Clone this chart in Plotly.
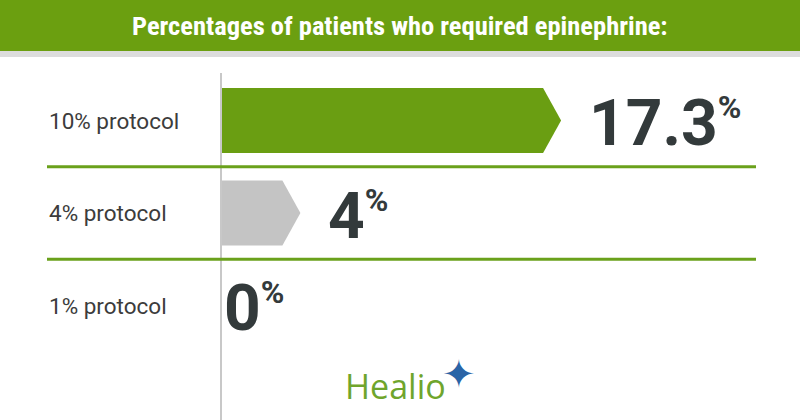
import plotly.graph_objects as go

# ---------------- data ----------------
categories = ["10% protocol", "4% protocol", "1% protocol"]
values = [17.3, 4, 0]
bar_colors = ["#6a9e12", "#c4c4c4", "#c4c4c4"]
title_text = "Percentages of patients who required epinephrine:"

# ---------------- layout geometry ----------------
W, H = 800, 420
ML, MR, MT, MB = 222, 0, 73, 0
PW, PH = W - ML - MR, H - MT - MB
PX_PER_UNIT = 19.6          # horizontal scale (px per percentage point)
ROW_PX = 92.5               # vertical spacing between rows (px)
FIRST_ROW_PX = 120.5        # pixel y of first row centre
TIP_PX = 18                 # arrow tip length (px)
BAR_H_PX = 65               # bar thickness (px)

xmax = PW / PX_PER_UNIT
y_top = -(FIRST_ROW_PX - MT) / ROW_PX
y_bot = y_top + PH / ROW_PX
tip = TIP_PX / PX_PER_UNIT
half = BAR_H_PX / ROW_PX / 2


def pxx(p):  # pixel x -> paper x
    return (p - ML) / PW


def pxy(p):  # pixel y -> paper y
    return (H - MB - p) / PH


fig = go.Figure()

# arrow-shaped bars built from the values
for i, (cat, v, col) in enumerate(zip(categories, values, bar_colors)):
    if v <= 0:
        continue
    body = max(v - tip, 0)
    xs = [0, body, v, body, 0, 0]
    ys = [i - half, i - half, i, i + half, i + half, i - half]
    fig.add_trace(go.Scatter(x=xs, y=ys, fill="toself", fillcolor=col,
                             mode="lines", line=dict(width=0, color=col),
                             hoverinfo="skip", showlegend=False))

annotations = []
shapes = []

# banner
shapes.append(dict(type="rect", xref="paper", yref="paper",
                   x0=pxx(-5), x1=pxx(W + 5), y0=pxy(51), y1=pxy(-5),
                   fillcolor="#6b9f10", line=dict(width=0), layer="below"))
shapes.append(dict(type="rect", xref="paper", yref="paper",
                   x0=pxx(-5), x1=pxx(W + 5), y0=pxy(57), y1=pxy(51),
                   fillcolor="#dcdcdc", line=dict(width=0), layer="below"))
annotations.append(dict(xref="paper", yref="paper", x=pxx(400), y=pxy(25),
                        text="<b>" + title_text + "</b>", showarrow=False,
                        xanchor="center", yanchor="middle",
                        font=dict(family="Roboto Condensed, Liberation Sans Narrow, DejaVu Sans Condensed, Roboto",
                                  size=26.5, color="white")))

# separators
for i in range(len(categories) - 1):
    shapes.append(dict(type="line", xref="paper", yref="y",
                       x0=pxx(47), x1=pxx(756), y0=i + 0.5, y1=i + 0.5,
                       line=dict(color="#6aa11b", width=3)))

# category labels and value labels
for i, (cat, v) in enumerate(zip(categories, values)):
    annotations.append(dict(xref="paper", yref="y", x=pxx(47), y=i,
                            text=cat, showarrow=False, xanchor="left",
                            yanchor="middle",
                            font=dict(family="Roboto", size=22.5, color="#3c3c3c")))
    annotations.append(dict(xref="x", yref="y", x=v, y=i,
                            text=f"{v:g}<sup><span style='font-size:32px'>%</span></sup>",
                            showarrow=False, xanchor="left", yanchor="middle",
                            xshift=26 if v > 0 else 0, yshift=-3,
                            font=dict(family="Roboto", size=64, color="#333a3b",
                                      weight="bold")))

# logo
annotations.append(dict(xref="paper", yref="paper", x=pxx(395), y=pxy(386),
                        text="Healio", showarrow=False, xanchor="center",
                        yanchor="middle",
                        font=dict(family="Open Sans", size=34, color="#6fa52c")))
annotations.append(dict(xref="paper", yref="paper", x=pxx(459), y=pxy(374),
                        text="✦", showarrow=False, xanchor="center",
                        yanchor="middle",
                        font=dict(family="DejaVu Sans", size=40, color="#2a64a6")))

fig.update_layout(
    width=W, height=H,
    margin=dict(l=ML, r=MR, t=MT, b=MB),
    paper_bgcolor="white", plot_bgcolor="white",
    xaxis=dict(range=[0, xmax], visible=False, fixedrange=True),
    yaxis=dict(range=[y_bot, y_top], showline=True, linecolor="#c8c8c8",
               linewidth=2, showticklabels=False, showgrid=False,
               zeroline=False, ticks="", fixedrange=True),
    shapes=shapes, annotations=annotations, showlegend=False,
)

fig.write_html("out.html", config={"displayModeBar": False})
